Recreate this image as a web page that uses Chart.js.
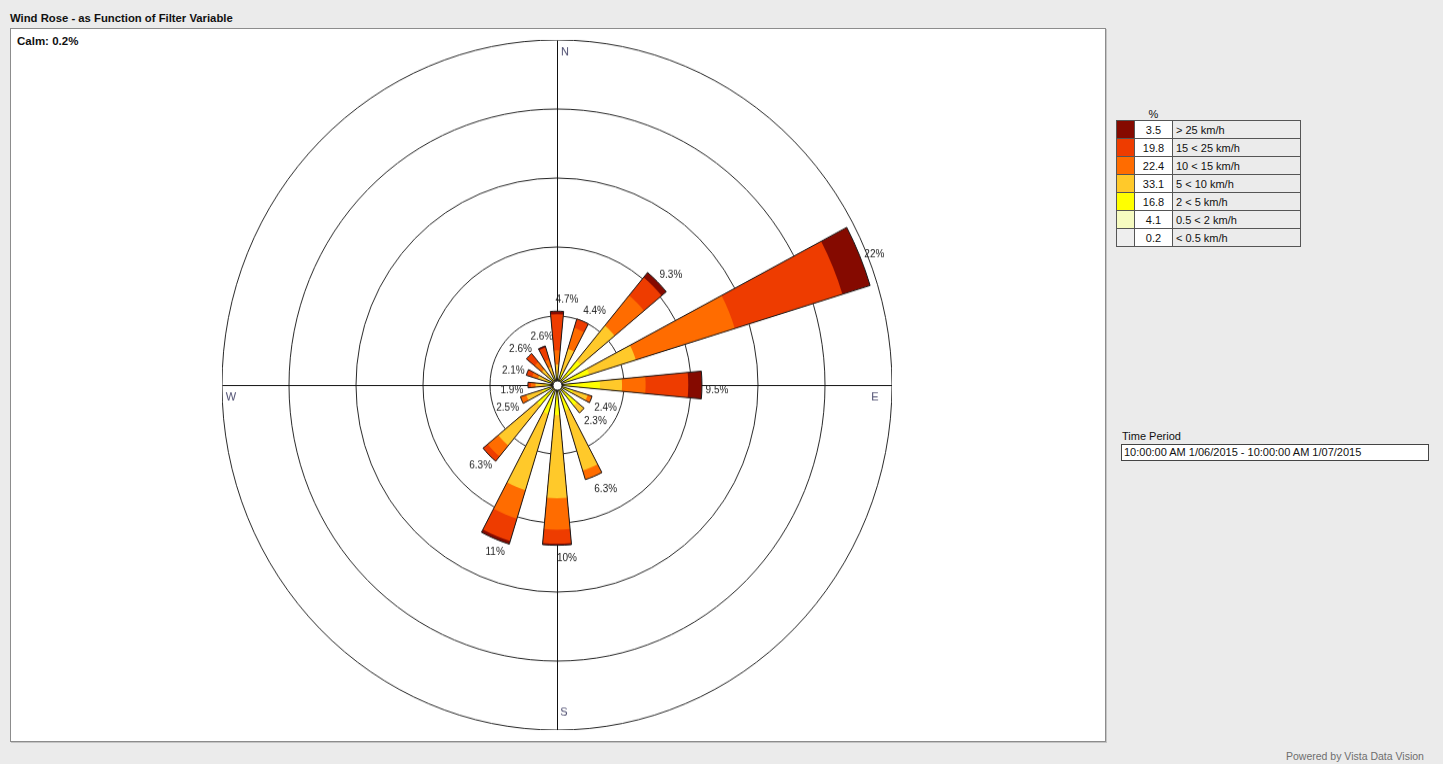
<!DOCTYPE html>
<html>
<head>
<meta charset="utf-8">
<script src="https://cdn.jsdelivr.net/npm/chart.js@4/dist/chart.umd.min.js"></script>
<style>
  html, body { margin:0; padding:0; }
  body { width:1443px; height:764px; background:#ebebeb; position:relative; overflow:hidden;
         font-family:"Liberation Sans", Arial, sans-serif; color:#111; }
  #title { position:absolute; left:10px; top:12px; font-weight:bold; font-size:11.3px; }
  #panel { position:absolute; left:10px; top:28px; width:1094px; height:712px; background:#fff;
           border:1px solid #8c8c8c; box-shadow:1px 1px 0 #c4c4c4; }
  #calm { position:absolute; left:17px; top:35px; font-weight:bold; font-size:11.5px; }
  #wrap { position:absolute; left:222px; top:50px; width:670px; height:670px;
          transform:scaleY(1.03); transform-origin:50% 50%; }
  #legend { position:absolute; left:1116px; top:108px; border-collapse:collapse; font-size:11px; }
  #legend td { border:1px solid #555; height:17px; padding:0 3px; }
  #legend td.sw { width:11px; }
  #legend td.val { width:31px; text-align:center; background:#fff; }
  #legend td.lab { width:121px; background:#ebebeb; }
  #legend tr.head td { border:none; height:12px; text-align:center; background:transparent; }
  #tpLabel { position:absolute; left:1122px; top:430px; font-size:11px; }
  #tpBox { position:absolute; left:1121px; top:444px; width:300px; height:15px; background:#fff;
           border:1px solid #444; font-size:11px; line-height:15px; padding-left:2px; padding-right:4px; }
  #powered { position:absolute; left:1286px; top:750px; font-size:10.5px; color:#6e6e6e; }
</style>
</head>
<body>
<div id="title">Wind Rose - as Function of Filter Variable</div>
<div id="panel"></div>
<div id="calm"></div>
<div id="wrap"><canvas id="c"></canvas></div>
<table id="legend"></table>
<div id="tpLabel">Time Period</div>
<div id="tpBox"></div>
<div id="powered">Powered by Vista Data Vision</div>
<script>
// ---------- data ----------
const directions = ['N','NNE','NE','ENE','E','ESE','SE','SSE','S','SSW','SW','WSW','W','WNW','NW','NNW'];
// per-direction share (%) for each speed band, from calmest to strongest
const bandCalm  = [0.01,0.01,0.02,0.02,0.02,0.01,0.01,0.01,0.02,0.02,0.01,0.01,0.01,0.01,0.01,0.01];
const band05_2  = [0.2, 0.3, 0.3, 0.3, 0.4, 0.3, 0.4, 0.3, 0.3, 0.3, 0.3, 0.3, 0.3, 0.3, 0.3, 0.2];
const band2_5   = [0.5, 0.6, 1.7, 1.9, 2.4, 0.8, 1.3, 1.4, 1.6, 1.6, 1.4, 0.7, 0.5, 0.4, 0.4, 0.4];
const band5_10  = [0.6, 1.5, 2.9, 3.2, 1.45,1.0, 0.6, 4.0, 5.3, 5.1, 3.3, 1.1, 0.6, 0.6, 0.6, 0.6];
const band10_15 = [0.9, 1.4, 2.5, 6.8, 1.55,0.3, 0.0, 0.6, 2.0, 1.9, 0.9, 0.4, 0.3, 0.4, 0.6, 0.5];
const band15_25 = [2.3, 0.6, 1.5, 7.4, 2.8, 0.0, 0.0, 0.0, 0.9, 1.5, 0.4, 0.0, 0.2, 0.4, 0.7, 0.8];
const band25    = [0.2, 0.0, 0.4, 1.9, 0.9, 0.0, 0.0, 0.0, 0.1, 0.2, 0.0, 0.0, 0.0, 0.0, 0.0, 0.1];

const bandLabels = ['< 0.5 km/h','0.5 < 2 km/h','2 < 5 km/h','5 < 10 km/h','10 < 15 km/h','15 < 25 km/h','> 25 km/h'];
const bandTotals = [0.2, 4.1, 16.8, 33.1, 22.4, 19.8, 3.5];
const bandColors = ['#eeeeee','#f6fbc0','#ffff00','#ffc92a','#ff6c00','#ee3c00','#850a00'];
const cardinals = ['N','E','S','W'];
const calmPct = 0.2;
const ringMax = 22;
const ringCount = 5;
const timePeriod = '10:00:00 AM 1/06/2015 - 10:00:00 AM 1/07/2015';

// ---------- html parts ----------
document.getElementById('calm').textContent = 'Calm: ' + calmPct + '%';
document.getElementById('tpBox').textContent = timePeriod;
const leg = document.getElementById('legend');
let html = '<tr class="head"><td></td><td>%</td><td></td></tr>';
for (let b = bandLabels.length - 1; b >= 0; b--) {
  html += '<tr><td class="sw" style="background:' + bandColors[b] + '"></td><td class="val">' +
          bandTotals[b].toFixed(1) + '</td><td class="lab">' + bandLabels[b] + '</td></tr>';
}
leg.innerHTML = html;

// ---------- chart ----------
const bands = [bandCalm, band05_2, band2_5, band5_10, band10_15, band15_25, band25];
const n = directions.length;
const sector = 360 / n;
const wedge = 10.7;   // angular width of each petal, degrees
const cum = [];
bands.forEach((arr, b) => {
  cum.push(arr.map((v, k) => Math.round(((b ? cum[b-1][k] : 0) + v) * 1000) / 1000));
});
const totals = cum[cum.length - 1];
const slotLabels = [];
directions.forEach(d => { slotLabels.push(d, ''); });
const toSlots = arr => { const out = []; arr.forEach(v => out.push(v, 0)); return out; };
const slotAngle = ctx => (ctx.dataIndex % 2 === 0 ? wedge : sector - wedge);

const datasets = [{
  label: 'outline',
  data: toSlots(totals),
  backgroundColor: 'rgba(0,0,0,0)',
  borderColor: '#1a1a1a',
  borderWidth: ctx => (ctx.raw > 0 ? 1 : 0),
  borderJoinStyle: 'miter',
  angle: slotAngle
}];
cum.forEach((arr, b) => {
  datasets.push({ label: bandLabels[b], data: toSlots(arr), backgroundColor: bandColors[b],
                  borderWidth: 0, angle: slotAngle });
});

const rad = d => d * Math.PI / 180;
const rosePlugin = {
  id: 'rose',
  beforeDatasetsDraw(chart) {
    const s = chart.scales.r, ctx = chart.ctx, R = s.drawingArea;
    ctx.save();
    ctx.strokeStyle = '#111';
    ctx.lineWidth = 1;
    [0, 90].forEach(a => {
      const t = rad(a) - Math.PI / 2;
      ctx.beginPath();
      ctx.moveTo(s.xCenter + 0.5 + Math.cos(t) * R, s.yCenter + 0.5 + Math.sin(t) * R);
      ctx.lineTo(s.xCenter + 0.5 - Math.cos(t) * R, s.yCenter + 0.5 - Math.sin(t) * R);
      ctx.stroke();
    });
    ctx.restore();
  },
  afterDatasetsDraw(chart) {
    const s = chart.scales.r, ctx = chart.ctx, R = s.drawingArea;
    ctx.save();
    // centre hub
    ctx.beginPath();
    ctx.arc(s.xCenter + 0.5, s.yCenter + 0.5, 4.5, 0, Math.PI * 2);
    ctx.fillStyle = '#fff'; ctx.fill();
    ctx.strokeStyle = '#222'; ctx.lineWidth = 1; ctx.stroke();
    // direction totals
    ctx.font = '10px "Liberation Sans", Arial, sans-serif';
    ctx.fillStyle = '#222';
    ctx.textAlign = 'center';
    ctx.textBaseline = 'middle';
    totals.forEach((v, k) => {
      const deg = sector * k;
      const t = rad(deg) - Math.PI / 2;
      const d = s.getDistanceFromCenterForValue(v);
      const x = s.xCenter + Math.cos(t) * d, y = s.yCenter + Math.sin(t) * d;
      const sn = Math.sin(rad(deg)), cs = Math.cos(rad(deg));
      const cx = x + 10 + (sn < -0.01 ? 26 * sn : 5 * sn);
      const cy = y + (cs > 0 ? 5 - 16 * cs : 5 - 8 * cs);
      ctx.fillText(Number(v.toPrecision(2)) + '%', cx, cy);
    });
    // cardinal letters
    ctx.font = '11px "Liberation Sans", Arial, sans-serif';
    ctx.fillStyle = '#4b4b6e';
    const pos = [[8, -(R - 12)], [R - 17, 12], [7, R - 17], [-(R - 9), 12]];
    cardinals.forEach((c, i) => {
      ctx.fillText(c, s.xCenter + pos[i][0], s.yCenter + pos[i][1]);
    });
    ctx.restore();
  }
};

new Chart(document.getElementById('c'), {
  type: 'polarArea',
  data: { labels: slotLabels, datasets },
  options: {
    responsive: true,
    maintainAspectRatio: false,
    animation: false,
    events: [],
    layout: { padding: 0 },
    plugins: { legend: { display: false }, tooltip: { enabled: false } },
    scales: {
      r: {
        min: 0, max: ringMax,
        startAngle: -wedge / 2,
        ticks: { display: false, stepSize: ringMax / ringCount },
        grid: { circular: true, color: '#2a2a2a', lineWidth: 1 },
        angleLines: { display: false },
        pointLabels: { display: false }
      }
    }
  },
  plugins: [rosePlugin]
});
</script>
</body>
</html>
